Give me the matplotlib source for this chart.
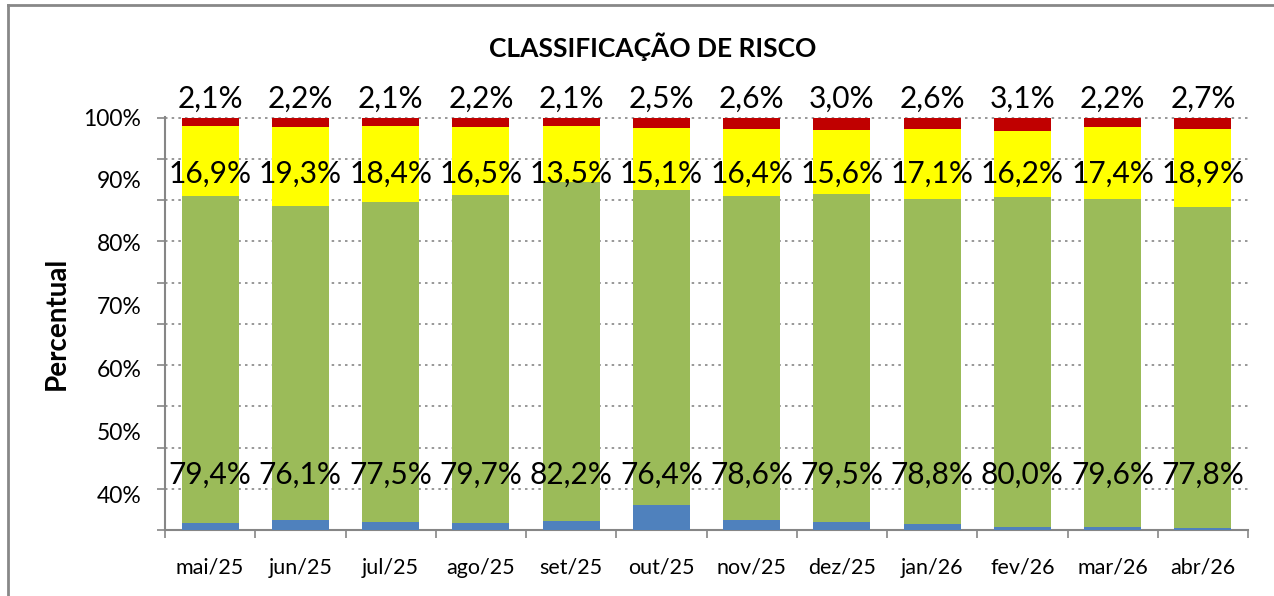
from matplotlib import pyplot as plt
from matplotlib.lines import Line2D
import numpy as np

months = ['mai/25', 'jun/25', 'jul/25', 'ago/25', 'set/25', 'out/25',
          'nov/25', 'dez/25', 'jan/26', 'fev/26', 'mar/26', 'abr/26']
blue = [1.6, 2.4, 2.0, 1.6, 2.2, 6.0, 2.4, 1.9, 1.5, 0.7, 0.8, 0.6]
green = [79.4, 76.1, 77.5, 79.7, 82.2, 76.4, 78.6, 79.5, 78.8, 80.0, 79.6, 77.8]
yellow = [16.9, 19.3, 18.4, 16.5, 13.5, 15.1, 16.4, 15.6, 17.1, 16.2, 17.4, 18.9]
red = [2.1, 2.2, 2.1, 2.2, 2.1, 2.5, 2.6, 3.0, 2.6, 3.1, 2.2, 2.7]
ytick_labels = ['100%', '90%', '80%', '70%', '60%', '50%', '40%']

FONT = 'Lato'
GREY = '#868686'


def pct(v):
    return ('%.1f%%' % v).replace('.', ',')


def main():
    plt.rcParams['font.family'] = [FONT, 'DejaVu Sans']
    fig = plt.figure(figsize=(12.74, 5.96), dpi=100)
    ax = fig.add_axes([165 / 1274, 1 - 530 / 596,
                       (1248 - 165) / 1274, (530 - 117) / 596])

    x = np.arange(len(months))
    b = np.array(blue)
    g = np.array(green)
    yl = np.array(yellow)
    r = np.array(red)
    w = 0.63
    ax.bar(x, b, width=w, color='#4F81BD', zorder=3)
    ax.bar(x, g, width=w, bottom=b, color='#9BBB59', zorder=3)
    ax.bar(x, yl, width=w, bottom=b + g, color='#FFFF00', zorder=3)
    ax.bar(x, r, width=w, bottom=b + g + yl, color='#C00000', zorder=3)

    for i in range(len(months)):
        ax.text(x[i], 13.5, pct(green[i]), ha='center', va='center',
                fontsize=21.5, zorder=5)
        ax.text(x[i], 86.5, pct(yellow[i]), ha='center', va='center',
                fontsize=21.5, zorder=5)
        ax.text(x[i], 104.5, pct(red[i]), ha='center', va='center',
                fontsize=21.5, zorder=5, clip_on=False)

    ax.set_xlim(-0.5, len(months) - 0.5)
    ax.set_ylim(0, 100)

    # gridlines / tick marks every 10%, labels at their own spots
    ax.set_yticks(np.arange(0, 101, 10))
    ax.set_yticklabels([])
    ax.set_yticks(np.linspace(100.2, 8.5, len(ytick_labels)), minor=True)
    ax.set_yticklabels(ytick_labels, minor=True)
    ax.tick_params(axis='y', which='major', length=6, width=1.2,
                   color=GREY, direction='out')
    ax.tick_params(axis='y', which='minor', length=0, labelsize=16.5, pad=17)
    ax.yaxis.grid(True, which='major', linestyle=(0, (1.5, 2.5)),
                  color=GREY, linewidth=1.2, zorder=0)

    ax.set_xticks(x)
    ax.set_xticklabels(months)
    ax.set_xticks(np.arange(-0.5, len(months)), minor=True)
    ax.tick_params(axis='x', which='major', length=0, labelsize=15.5, pad=20)
    ax.tick_params(axis='x', which='minor', length=6, width=1.2,
                   color=GREY, direction='out')

    for s in ['top', 'right']:
        ax.spines[s].set_visible(False)
    for s in ['left', 'bottom']:
        ax.spines[s].set_color(GREY)
        ax.spines[s].set_linewidth(1.5)
    ax.set_axisbelow(True)

    fig.text(653 / 1274, 1 - 47 / 596, 'CLASSIFICAÇÃO DE RISCO',
             ha='center', va='center', fontsize=19, fontweight='bold')
    fig.text(57 / 1274, 1 - 323 / 596, 'Percentual', rotation=90,
             ha='center', va='center', fontsize=20, fontweight='bold')

    # chart area border (left and top visible)
    fig.add_artist(Line2D([8 / 1274, 8 / 1274], [0, 1 - 5 / 596],
                          transform=fig.transFigure, color='#888888', lw=2))
    fig.add_artist(Line2D([8 / 1274, 1], [1 - 5 / 596, 1 - 5 / 596],
                          transform=fig.transFigure, color='#888888', lw=2))

    fig.savefig('out.png', dpi=100)


if __name__ == '__main__':
    main()
